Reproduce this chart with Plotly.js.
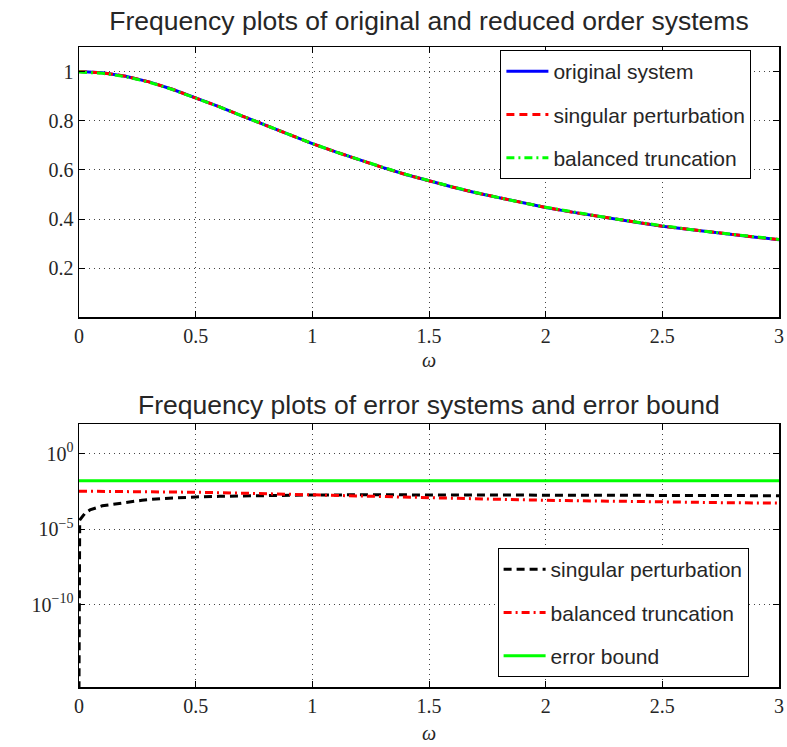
<!DOCTYPE html>
<html>
<head>
<meta charset="utf-8">
<script src="https://cdn.plot.ly/plotly-3.0.1.min.js"></script>
<style>html,body{margin:0;padding:0;background:#fff;}#chart{width:787px;height:747px;}</style>
</head>
<body>
<div id="chart"></div>
<script>
// ---------- top panel: magnitude of frequency responses ----------
const omegaTop = [0,0.1,0.2,0.3,0.4,0.5,0.6,0.7,0.8,0.9,1.0,1.1,1.2,1.3,1.4,1.5,1.6,1.7,1.8,1.9,2.0,2.1,2.2,2.3,2.4,2.5,2.6,2.7,2.8,2.9,3.0];
const origMag = [1.000,0.995,0.981,0.958,0.928,0.894,0.857,0.819,0.781,0.743,0.707,0.673,0.640,0.610,0.581,0.555,0.530,0.507,0.486,0.465,0.447,0.430,0.414,0.399,0.385,0.371,0.359,0.347,0.336,0.326,0.316];
const spMag   = [1.000,0.995,0.981,0.958,0.928,0.894,0.857,0.819,0.781,0.743,0.707,0.673,0.640,0.610,0.581,0.555,0.530,0.507,0.486,0.465,0.447,0.430,0.414,0.399,0.385,0.371,0.359,0.347,0.336,0.326,0.316];
const btMag   = [0.998,0.993,0.979,0.957,0.927,0.893,0.857,0.819,0.781,0.743,0.707,0.673,0.641,0.611,0.582,0.556,0.531,0.508,0.486,0.466,0.448,0.431,0.415,0.400,0.386,0.372,0.360,0.348,0.337,0.327,0.317];

// ---------- bottom panel: error magnitudes ----------
const omegaSP = [0,0.003,0.026,0.047,0.1,0.19,0.27,0.35,0.42,0.5,0.6,0.75,0.85,1.0,1.25,1.5,1.75,2.0,2.25,2.5,2.75,3.0];
const spErr   = [2.5e-16,3.98e-5,1.15e-4,1.91e-4,3.55e-4,5.89e-4,8.32e-4,1.07e-3,1.26e-3,1.38e-3,1.51e-3,1.66e-3,1.78e-3,1.86e-3,1.91e-3,1.91e-3,1.91e-3,1.86e-3,1.82e-3,1.74e-3,1.70e-3,1.66e-3];
const omegaBT = [0,0.25,0.5,0.75,1.0,1.25,1.5,1.75,2.0,2.25,2.5,2.75,3.0];
const btErr   = [3.31e-3,3.16e-3,2.82e-3,2.34e-3,1.86e-3,1.48e-3,1.20e-3,1.00e-3,8.3e-4,7.1e-4,6.3e-4,5.75e-4,5.37e-4];
const omegaBound = [0,3];
const errBound   = [0.0162,0.0162];

// ---------- tick labels ----------
const xTickVals = [0,0.5,1,1.5,2,2.5,3];
const xTickText = ['0','0.5','1','1.5','2','2.5','3'];
const yTopTickVals = [0.2,0.4,0.6,0.8,1];
const yTopTickText = ['0.2','0.4','0.6','0.8','1'];
const yLogTickVals = [1e-10,1e-5,1];
const yLogTickText = ['10<sup>\u221210</sup>','10<sup>\u22125</sup>','10<sup>0</sup>'];

const tickFont = {family:'Liberation Serif, DejaVu Serif, serif', size:20, color:'#262626'};
const sansFont = 'Liberation Sans, Arial, Helvetica, sans-serif';

const traces = [
  {x:omegaTop, y:origMag, type:'scatter', mode:'lines', name:'original system',
   line:{color:'#0000ff', width:3}, xaxis:'x', yaxis:'y', legend:'legend', legendgroup:'a'},
  {x:omegaTop, y:spMag, type:'scatter', mode:'lines', name:'singular perturbation',
   line:{color:'#ff0000', width:3, dash:'8px,5px'}, xaxis:'x', yaxis:'y', legend:'legend', legendgroup:'b'},
  {x:omegaTop, y:btMag, type:'scatter', mode:'lines', name:'balanced truncation',
   line:{color:'#00ff00', width:3, dash:'8px,4px,2px,4px'}, xaxis:'x', yaxis:'y', legend:'legend', legendgroup:'c'},
  {x:omegaSP, y:spErr, type:'scatter', mode:'lines', name:'singular perturbation',
   line:{color:'#000000', width:3, dash:'8px,5px'}, xaxis:'x2', yaxis:'y2', legend:'legend2', legendgroup:'d'},
  {x:omegaBT, y:btErr, type:'scatter', mode:'lines', name:'balanced truncation',
   line:{color:'#ff0000', width:3, dash:'8px,4px,2px,4px'}, xaxis:'x2', yaxis:'y2', legend:'legend2', legendgroup:'e'},
  {x:omegaBound, y:errBound, type:'scatter', mode:'lines', name:'error bound',
   line:{color:'#00ff00', width:3}, xaxis:'x2', yaxis:'y2', legend:'legend2', legendgroup:'f'}
];

const axisCommon = {
  showline:true, linecolor:'#000', linewidth:1.5, mirror:'ticks',
  ticks:'inside', ticklen:6, tickcolor:'#000', tickwidth:1,
  showgrid:true, gridcolor:'#444', gridwidth:1, griddash:'1px,4px',
  zeroline:false, tickfont:tickFont
};

const legendCommon = {
  bgcolor:'#ffffff', bordercolor:'#000', borderwidth:1,
  font:{family:sansFont, size:21, color:'#262626'},
  xanchor:'left', yanchor:'top', traceorder:'grouped', tracegroupgap:13,
  itemwidth:42
};

const omegaTitleFont = {family:'Liberation Serif, serif', size:20, color:'#262626'};

// plot area: top 47px, bottom 687px, height 640px
const PB = 687, PH = 640;
const py = p => (PB - p) / PH;

const layout = {
  width:787, height:747,
  margin:{l:79, r:8, t:47, b:60},
  paper_bgcolor:'#fff', plot_bgcolor:'#fff',
  showlegend:true,
  title:{text:'Frequency plots of original and reduced order systems',
    font:{family:sansFont, size:26.5, color:'#262626'},
    x:0.5, xref:'paper', xanchor:'center', y:1-21/747, yref:'container', yanchor:'middle'},
  xaxis:Object.assign({}, axisCommon, {domain:[0,1], range:[0,3], anchor:'y',
    tickvals:xTickVals, ticktext:xTickText}),
  yaxis:Object.assign({}, axisCommon, {domain:[py(317.3),1], range:[0,1.1], anchor:'x',
    tickvals:yTopTickVals, ticktext:yTopTickText}),
  xaxis2:Object.assign({}, axisCommon, {domain:[0,1], range:[0,3], anchor:'y2',
    tickvals:xTickVals, ticktext:xTickText}),
  yaxis2:Object.assign({}, axisCommon, {domain:[0,py(424)], type:'log', range:[-15.45,1.97], anchor:'x2',
    tickvals:yLogTickVals, ticktext:yLogTickText}),
  legend:Object.assign({}, legendCommon, {x:0.602, y:py(50), xref:'paper', yref:'paper'}),
  legend2:Object.assign({}, legendCommon, {x:0.598, y:py(548), xref:'paper', yref:'paper'}),
  annotations:[
    {text:'Frequency plots of error systems and error bound', showarrow:false,
     xref:'paper', yref:'paper', x:0.5, y:py(405), xanchor:'center', yanchor:'middle',
     font:{family:sansFont, size:26.5, color:'#262626'}},
    {text:'<i>\u03c9</i>', showarrow:false, xref:'paper', yref:'paper',
     x:0.5, y:py(360), xanchor:'center', yanchor:'middle', font:omegaTitleFont},
    {text:'<i>\u03c9</i>', showarrow:false, xref:'paper', yref:'paper',
     x:0.5, y:py(746), xanchor:'center', yanchor:'bottom', font:omegaTitleFont}
  ]
};

Plotly.newPlot('chart', traces, layout, {displayModeBar:false, staticPlot:true});
</script>
</body>
</html>
